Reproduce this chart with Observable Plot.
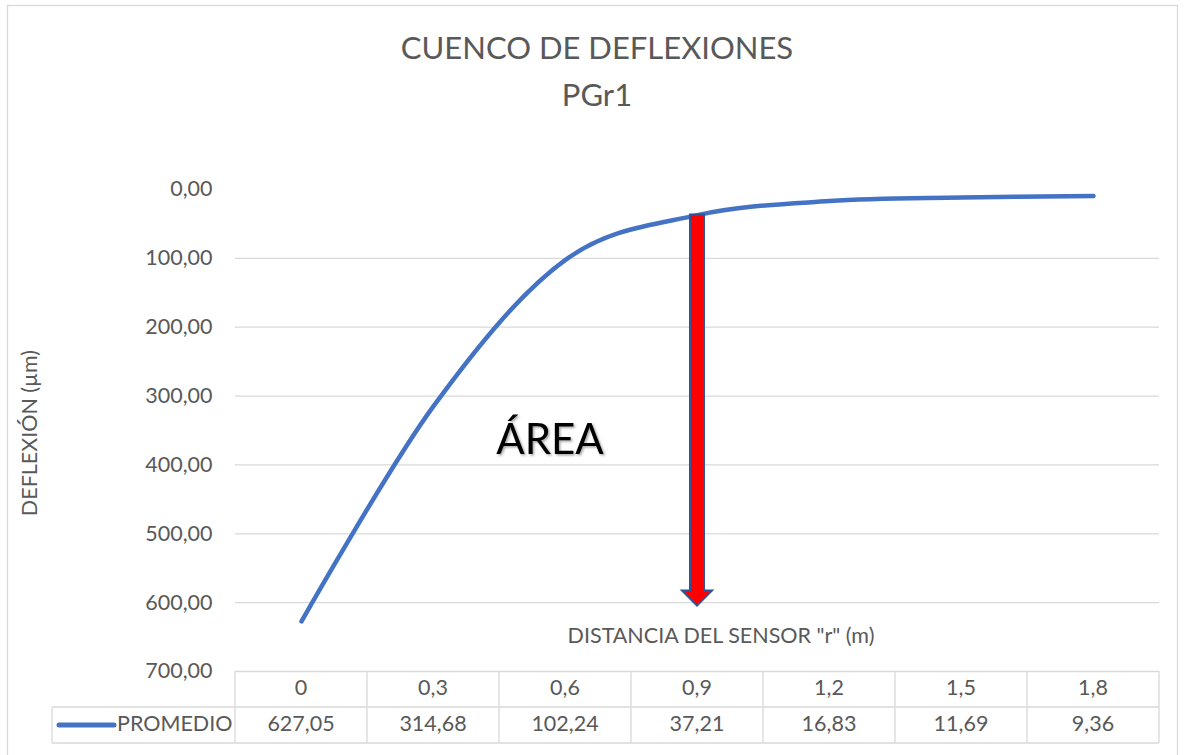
<!DOCTYPE html>
<html><head><meta charset="utf-8">
<script src="https://cdn.jsdelivr.net/npm/d3@7"></script>
<script src="https://cdn.jsdelivr.net/npm/@observablehq/plot@0.6"></script>
<style>
body{margin:0;background:#fff;}
#chart svg{display:block;}
</style>
</head><body><div id="chart"></div>
<script>
// ---- data ----
const categories = ["0", "0,3", "0,6", "0,9", "1,2", "1,5", "1,8"];
const promedio = [627.05, 314.68, 102.24, 37.21, 16.83, 11.69, 9.36];
const promedioLabels = ["627,05", "314,68", "102,24", "37,21", "16,83", "11,69", "9,36"];
const yTicks = [0, 100, 200, 300, 400, 500, 600, 700];
const seriesName = "PROMEDIO";
const titleLines = ["CUENCO DE DEFLEXIONES", "PGr1"];
const yLabel = "DEFLEXIÓN (µm)";
const xLabel = "DISTANCIA DEL SENSOR \"r\" (m)";
const areaLabel = "ÁREA";
const arrowCategory = "0,9";
const arrowFrom = 37.21;
const arrowTo = 605;

(function () {
const data = categories.map((c, i) => ({c, v: promedio[i], label: promedioLabels[i]}));
const fmt = d => d3.format(".2f")(d).replace(".", ",");

const W = 1184, H = 755;
const FONT = "Lato, 'Open Sans', sans-serif";
const GREY = "#595959", GRID = "#d9d9d9", BLUE = "#4472C4";
const FS = 21.5;

const plot = Plot.plot({
  width: W, height: H,
  marginLeft: 235, marginRight: 25, marginTop: 189, marginBottom: 84,
  style: {fontFamily: FONT, fontSize: FS + "px", color: GREY, background: "#fff", overflow: "visible"},
  x: {type: "point", domain: categories, padding: 0.5, axis: null},
  y: {domain: [0, 700], reverse: true},
  marks: [
    Plot.gridY(yTicks.filter(d => d > 0), {stroke: GRID, strokeOpacity: 1, strokeWidth: 1.3}),
    Plot.axisY({ticks: yTicks, tickFormat: fmt, tickSize: 0, tickPadding: 23, label: null, fontSize: FS, fill: GREY}),
    Plot.line(data, {x: "c", y: "v", stroke: BLUE, strokeWidth: 4.5, curve: "cardinal", strokeLinecap: "round"})
  ]
});
document.getElementById("chart").appendChild(plot);

const xs = plot.scale("x"), ys = plot.scale("y");
const step = (xs.range[1] - xs.range[0]) / (categories.length - 1 + 2 * xs.padding);
const svg = d3.select(plot);

// outer chart border
svg.insert("rect", ":first-child").attr("x", 7.5).attr("y", 5.5).attr("width", 1170).attr("height", 800)
  .attr("fill", "#fff").attr("stroke", GRID).attr("stroke-width", 1.3);

const g = svg.append("g").attr("font-family", FONT).attr("fill", GREY);

// title
g.append("text").attr("x", 597).attr("y", 51).attr("text-anchor", "middle").attr("dominant-baseline", "middle")
  .attr("font-size", 31).text(titleLines[0]);
g.append("text").attr("x", 597).attr("y", 98).attr("text-anchor", "middle").attr("dominant-baseline", "middle")
  .attr("font-size", 31).text(titleLines[1]);

// axis titles
g.append("text").attr("transform", "translate(32,433) rotate(-90)").attr("text-anchor", "middle")
  .attr("dominant-baseline", "middle").attr("font-size", FS).text(yLabel);
g.append("text").attr("x", 721).attr("y", 638).attr("text-anchor", "middle").attr("dominant-baseline", "middle")
  .attr("font-size", FS).text(xLabel);

// ÁREA label with shadow
const defs = svg.append("defs");
const f = defs.append("filter").attr("id", "sh").attr("x", "-20%").attr("y", "-20%").attr("width", "140%").attr("height", "140%");
f.append("feDropShadow").attr("dx", 1.5).attr("dy", 1.5).attr("stdDeviation", 1.2).attr("flood-color", "#000").attr("flood-opacity", 0.35);
g.append("text").attr("x", 550).attr("y", 443).attr("text-anchor", "middle").attr("dominant-baseline", "middle")
  .attr("font-size", 42).attr("fill", "#000").attr("filter", "url(#sh)").text(areaLabel);

// arrow
const xa = xs.apply(arrowCategory), y1 = ys.apply(arrowFrom), y2 = ys.apply(arrowTo);
const sw = 7, hw = 15, hh = 15;
svg.append("path")
  .attr("d", `M${xa - sw},${y1}L${xa + sw},${y1}L${xa + sw},${y2 - hh}L${xa + hw},${y2 - hh}L${xa},${y2}L${xa - hw},${y2 - hh}L${xa - sw},${y2 - hh}Z`)
  .attr("fill", "#FF0000").attr("stroke", "#2F5597").attr("stroke-width", 2).attr("stroke-linejoin", "miter");

// data table
const tableTop = ys.apply(700), rowH = 36, legendLeft = 52;
const rightEdge = xs.range[1];
const t = svg.append("g").attr("stroke", GRID).attr("stroke-width", 1.3);
categories.forEach(c => {
  const bx = xs.apply(c) - step / 2;
  t.append("line").attr("x1", bx).attr("x2", bx).attr("y1", tableTop).attr("y2", tableTop + 2 * rowH);
});
t.append("line").attr("x1", rightEdge).attr("x2", rightEdge).attr("y1", tableTop).attr("y2", tableTop + 2 * rowH);
t.append("line").attr("x1", legendLeft).attr("x2", legendLeft).attr("y1", tableTop + rowH).attr("y2", tableTop + 2 * rowH);
t.append("line").attr("x1", legendLeft).attr("x2", rightEdge).attr("y1", tableTop + rowH).attr("y2", tableTop + rowH);
t.append("line").attr("x1", legendLeft).attr("x2", rightEdge).attr("y1", tableTop + 2 * rowH).attr("y2", tableTop + 2 * rowH);

const tt = svg.append("g").attr("font-family", FONT).attr("font-size", FS).attr("fill", GREY)
  .attr("text-anchor", "middle").attr("dominant-baseline", "middle");
categories.forEach(c => tt.append("text").attr("x", xs.apply(c)).attr("y", tableTop + rowH / 2 + 1).text(c));
data.forEach(d => tt.append("text").attr("x", xs.apply(d.c)).attr("y", tableTop + rowH * 1.5 + 1).text(d.label));

// legend key
svg.append("line").attr("x1", 59).attr("x2", 114).attr("y1", tableTop + rowH * 1.5).attr("y2", tableTop + rowH * 1.5)
  .attr("stroke", BLUE).attr("stroke-width", 5).attr("stroke-linecap", "round");
tt.append("text").attr("x", 117).attr("y", tableTop + rowH * 1.5 + 1).attr("text-anchor", "start").text(seriesName);
})();
</script>
</body></html>
